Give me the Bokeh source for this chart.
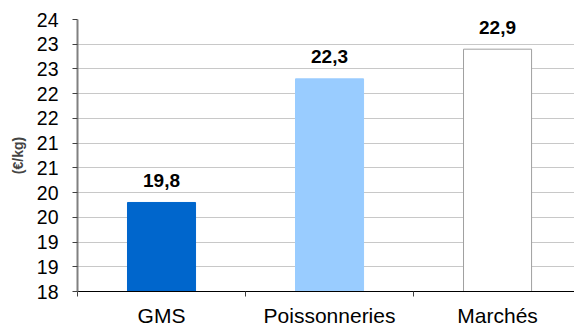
from bokeh.plotting import figure
from bokeh.models import Range1d, FixedTicker, ColumnDataSource
from bokeh.core.properties import value
from bokeh.embed import file_html
from bokeh.resources import INLINE

categories = ["GMS", "Poissonneries", "Marchés"]
prices = [19.8, 22.3, 22.9]
price_labels = ["19,8", "22,3", "22,9"]
bar_colors = ["#0066cc", "#99ccff", "#ffffff"]
bar_lines = ["#0066cc", "#99ccff", "#a0a0a0"]
y_ticks = [18, 18.5, 19, 19.5, 20, 20.5, 21, 21.5, 22, 22.5, 23, 23.5]
y_tick_labels = ["18", "19", "19", "20", "20", "21", "21", "22", "22", "23", "23", "24"]

FONT = "Liberation Sans"
centers = [i + 0.5 for i in range(len(categories))]

src = ColumnDataSource(dict(x=centers, top=prices, lab=price_labels,
                            fill=bar_colors, line=bar_lines))

p = figure(width=574, height=329, x_range=Range1d(0, 2.958), y_range=Range1d(18, 23.5),
           output_backend="svg", toolbar_location=None,
           min_border_left=77, min_border_right=0, min_border_top=19, min_border_bottom=37)
p.outline_line_color = None
p.background_fill_color = "white"

p.vbar(x="x", top="top", bottom=18, width=0.405, source=src,
       fill_color="fill", line_color="line", line_width=1)
p.text(x="x", y="top", text="lab", source=src, text_align="center",
       text_baseline="alphabetic", y_offset=-22,
       text_font=value(FONT), text_font_style="bold", text_font_size="19px",
       text_color="black")

# y axis
p.yaxis.ticker = FixedTicker(ticks=y_ticks)
p.yaxis.major_label_overrides = {t: l for t, l in zip(y_ticks, y_tick_labels)}
p.yaxis.major_label_text_font = FONT
p.yaxis.major_label_text_font_size = "19.5px"
p.yaxis.major_label_text_color = "black"
p.yaxis.major_tick_out = 5
p.yaxis.major_tick_in = 0
p.yaxis.minor_tick_out = 0
p.yaxis.minor_tick_in = 0
p.yaxis.major_label_standoff = 14
p.yaxis.axis_line_color = "#808080"
p.yaxis.axis_line_width = 2
p.yaxis.major_tick_line_color = "#404040"
p.yaxis.axis_label = "(€/kg)"
p.yaxis.axis_label_text_font = FONT
p.yaxis.axis_label_text_font_style = "bold"
p.yaxis.axis_label_text_font_size = "14px"
p.yaxis.axis_label_standoff = 8

# x axis
p.xaxis.ticker = FixedTicker(ticks=centers, minor_ticks=[0, 1, 2, 3])
p.xaxis.major_label_overrides = {c: n for c, n in zip(centers, categories)}
p.xaxis.major_label_text_font = FONT
p.xaxis.major_label_text_font_size = "21px"
p.xaxis.major_label_text_color = "black"
p.xaxis.major_tick_out = 0
p.xaxis.major_tick_in = 0
p.xaxis.minor_tick_out = 5
p.xaxis.minor_tick_in = 0
p.xaxis.minor_tick_line_color = "#404040"
p.xaxis.major_label_standoff = 7
p.xaxis.axis_line_color = "black"

p.xgrid.grid_line_color = None
p.ygrid.ticker = FixedTicker(ticks=y_ticks)
p.ygrid.grid_line_color = "#c8c8c8"
p.ygrid.grid_line_width = 1

open("out.html", "w").write(file_html(p, INLINE))
